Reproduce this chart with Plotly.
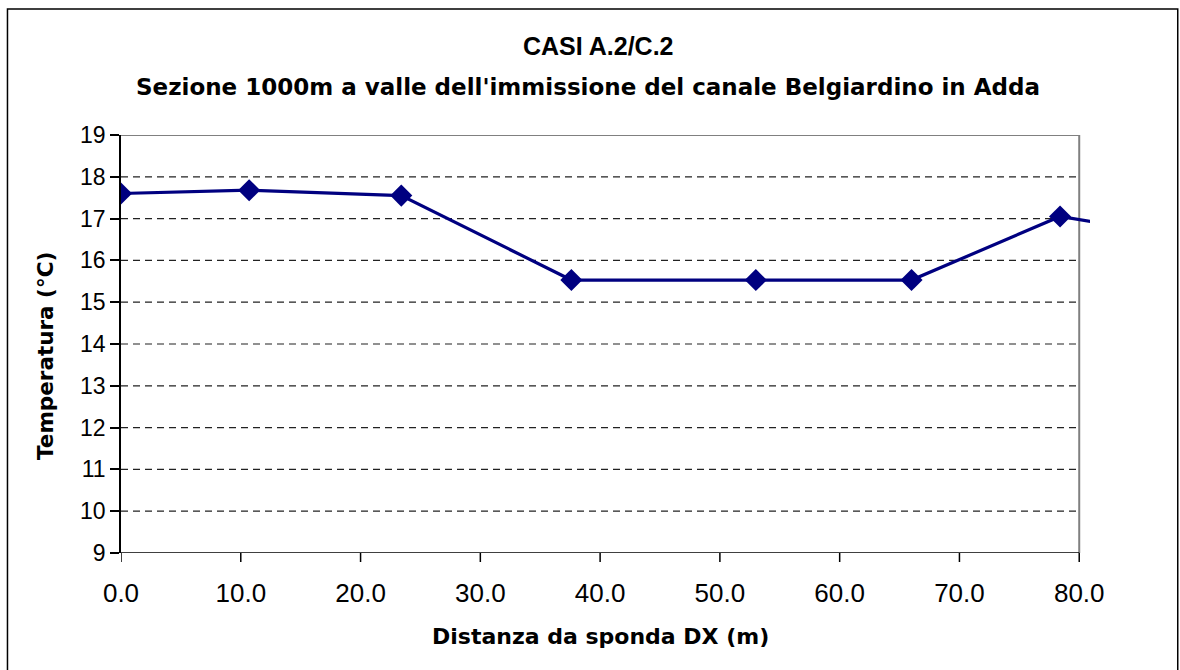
import plotly.graph_objects as go

# Temperature profile across the river section
distanza = [0.0, 10.7, 23.4, 37.6, 53.0, 66.0, 78.4, 91.0]
temperatura = [17.60, 17.68, 17.55, 15.53, 15.53, 15.53, 17.05, 16.45]

x_ticks = [0, 10, 20, 30, 40, 50, 60, 70, 80]
x_tick_labels = ["0.0", "10.0", "20.0", "30.0", "40.0", "50.0", "60.0", "70.0", "80.0"]
y_ticks = [9, 10, 11, 12, 13, 14, 15, 16, 17, 18, 19]

titolo = "CASI A.2/C.2"
sottotitolo = "Sezione 1000m a valle dell'immissione del canale Belgiardino in Adda"
titolo_x = "Distanza da sponda DX (m)"
titolo_y = "Temperatura (°C)"

W, H = 1180, 670
L, T, B = 121, 135, 117
X_MAX, X_VIEW = 80, 80.9
plot_w = (1079 - L) * X_VIEW / X_MAX
R = W - L - plot_w
plot_h = H - T - B

NAVY = "#000080"
FONT = "Liberation Sans, Arial, sans-serif"
BOLD_FONT = "DejaVu Sans, sans-serif"

fig = go.Figure()
fig.add_trace(go.Scatter(
    x=distanza, y=temperatura, mode="lines+markers",
    line=dict(color=NAVY, width=3.2),
    marker=dict(symbol="diamond", size=17, color=NAVY),
    showlegend=False, hoverinfo="skip",
))

shapes = []
# dashed horizontal gridlines
for v in y_ticks[1:-1]:
    shapes.append(dict(type="line", xref="x", yref="y", x0=0, x1=X_MAX, y0=v, y1=v,
                       line=dict(color="#222222", width=1.2, dash="7px,5px"), layer="below"))
# plot frame: grey top/right, black bottom axis
shapes.append(dict(type="line", xref="x", yref="y", x0=0, x1=X_MAX, y0=19, y1=19,
                   line=dict(color="#808080", width=2), layer="below"))
shapes.append(dict(type="line", xref="x", yref="y", x0=X_MAX, x1=X_MAX, y0=9, y1=19,
                   line=dict(color="#808080", width=2), layer="below"))
shapes.append(dict(type="line", xref="x", yref="y", x0=0, x1=X_MAX, y0=9, y1=9,
                   line=dict(color="#000000", width=1.5), layer="below"))
for v in x_ticks:
    shapes.append(dict(type="line", xref="x", yref="paper", x0=v, x1=v, y0=0,
                       y1=-9 / plot_h, line=dict(color="#000000", width=1.5)))


def px_x(p):
    return (p - L) / plot_w


def px_y(p):
    return (H - B - p) / plot_h


# outer chart border
shapes.append(dict(type="rect", xref="paper", yref="paper",
                   x0=px_x(7.5), x1=px_x(1177.5), y0=px_y(700), y1=px_y(9),
                   line=dict(color="#000000", width=1.5), fillcolor="rgba(0,0,0,0)"))

annotations = [
    dict(text="<b>" + titolo + "</b>", xref="paper", yref="paper",
         x=px_x(598), y=px_y(46), showarrow=False, xanchor="center", yanchor="middle",
         font=dict(family=FONT, size=25, color="#000000")),
    dict(text="<b>" + sottotitolo + "</b>", xref="paper", yref="paper",
         x=px_x(588), y=px_y(87), showarrow=False, xanchor="center", yanchor="middle",
         font=dict(family=BOLD_FONT, size=23, color="#000000")),
    dict(text="<b>" + titolo_x + "</b>", xref="paper", yref="paper",
         x=px_x(600), y=px_y(636), showarrow=False, xanchor="center", yanchor="middle",
         font=dict(family=BOLD_FONT, size=22, color="#000000")),
    dict(text="<b>" + titolo_y + "</b>", xref="paper", yref="paper",
         x=px_x(45), y=px_y(356), showarrow=False, xanchor="center", yanchor="middle",
         textangle=-90,
         font=dict(family=BOLD_FONT, size=21.5, color="#000000")),
]

fig.update_layout(
    width=W, height=H,
    margin=dict(l=L, r=R, t=T, b=B),
    paper_bgcolor="white", plot_bgcolor="white",
    shapes=shapes, annotations=annotations,
    xaxis=dict(
        range=[0, X_VIEW], tickvals=x_ticks, ticktext=x_tick_labels,
        showgrid=False, zeroline=False, showline=False, ticks="",
        tickfont=dict(family=FONT, size=26, color="#000000"),
        ticklabelstandoff=22,
    ),
    yaxis=dict(
        range=[9, 19], tickvals=y_ticks,
        showgrid=False, zeroline=False, showline=True, linecolor="#000000", linewidth=1.5,
        ticks="outside", ticklen=9, tickcolor="#000000", tickwidth=1.5,
        tickfont=dict(family=FONT, size=23, color="#000000"),
    ),
)

fig.write_html("out.html")
